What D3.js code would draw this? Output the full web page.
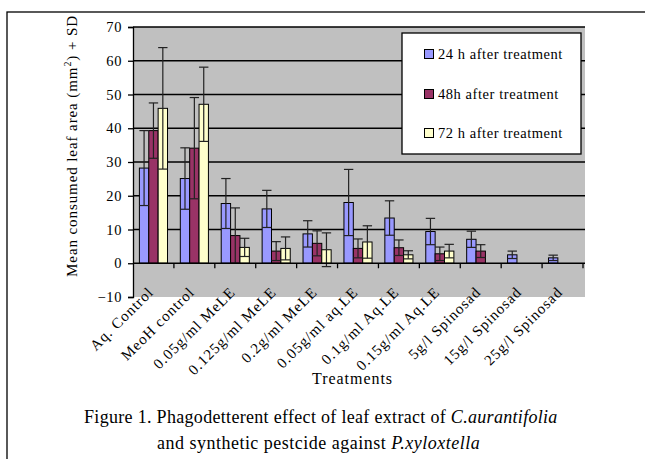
<!DOCTYPE html>
<html>
<head>
<meta charset="utf-8">
<script src="https://cdn.jsdelivr.net/npm/d3@7"></script>
<style>
  body { margin: 0; background: #fff; }
  svg { display: block; font-family: "Liberation Serif", "Times New Roman", serif; }
</style>
</head>
<body>
<div id="chart"></div>
<script>
var categories = ["Aq. Control", "MeoH control", "0.05g/ml MeLE", "0.125g/ml MeLE", "0.2g/ml MeLE",
    "0.05g/ml aq.LE", "0.1g/ml Aq.LE", "0.15g/ml Aq.LE", "5g/l Spinosad", "15g/l Spinosad", "25g/l Spinosad"];
var seriesNames = ["24 h after treatment", "48h after treatment", "72 h after treatment"];
var mean24 = [28.2, 25.1, 17.7, 16.1, 8.7, 18.0, 13.4, 9.4, 7.1, 2.5, 1.6];
var sd24   = [11.1, 9.1, 7.4, 5.5, 3.9, 9.8, 5.1, 3.9, 2.4, 1.1, 0.8];
var mean48 = [39.3, 34.1, 8.2, 3.6, 5.9, 4.4, 4.6, 2.8, 3.6, 0, 0];
var sd48   = [8.2, 15.0, 8.2, 2.8, 3.7, 2.8, 2.3, 2.0, 1.9, 0, 0];
var mean72 = [45.9, 47.1, 4.7, 4.4, 4.0, 6.3, 2.5, 3.6, 0, 0, 0];
var sd72   = [18.0, 11.0, 2.7, 3.4, 5.0, 4.8, 1.2, 2.0, 0, 0, 0];
var yTicks = [-10, 0, 10, 20, 30, 40, 50, 60, 70];

var colours = ["#9999ff", "#993366", "#ffffcc"];
var means = [mean24, mean48, mean72];
var sds = [sd24, sd48, sd72];

// stretch text to a measured width
function fitWidth(sel, w) {
    var len = sel.node().getComputedTextLength();
    var n = sel.text().length;
    sel.attr("letter-spacing", ((w - len) / n).toFixed(2));
}

var svg = d3.select("#chart").append("svg")
    .attr("width", 645).attr("height", 459);

// outer figure frame (runs off the page)
svg.append("rect")
    .attr("x", 7).attr("y", 12).attr("width", 700).attr("height", 500)
    .attr("fill", "none").attr("stroke", "#000").attr("stroke-width", 1.3);

var plot = {left: 133, right: 583, top: 27, bottom: 297};

var x0 = d3.scaleBand().domain(categories).range([plot.left, plot.right]).padding(0);
var x1 = d3.scaleBand().domain([0, 1, 2]).range([6.4, x0.bandwidth() - 6.4]).padding(0);
var y = d3.scaleLinear().domain([-10, 70]).range([plot.bottom, plot.top]);

svg.append("rect")
    .attr("x", plot.left).attr("y", plot.top)
    .attr("width", plot.right - plot.left + 2).attr("height", plot.bottom - plot.top)
    .attr("fill", "#c0c0c0");

// gridlines
svg.append("g").selectAll("line").data(yTicks.filter(function(d) { return d > 0; })).enter()
    .append("line")
    .attr("x1", plot.left).attr("x2", plot.right + 2)
    .attr("y1", function(d) { return y(d); }).attr("y2", function(d) { return y(d); })
    .attr("stroke", "#000").attr("stroke-width", 1.3);

// y axis
var yAxis = d3.axisLeft(y).tickValues(yTicks).tickSize(5).tickPadding(6);
var yg = svg.append("g").attr("transform", "translate(" + plot.left + ",0)").call(yAxis);
yg.select(".domain").attr("stroke", "#000").attr("stroke-width", 1.3);
yg.selectAll(".tick line").attr("stroke", "#000").attr("stroke-width", 1.3);
yg.selectAll(".tick text")
    .attr("font-family", "Liberation Serif").attr("font-size", "14.5px").attr("fill", "#000")
    .attr("letter-spacing", "0.6");

// bars
var groups = svg.append("g").selectAll("g").data(categories).enter()
    .append("g")
    .attr("transform", function(d) { return "translate(" + x0(d) + ",0)"; });

groups.each(function(cat, i) {
    var g = d3.select(this);
    for (var s = 0; s < 3; s++) {
        var v = means[s][i];
        g.append("rect")
            .attr("x", x1(s)).attr("width", x1.bandwidth())
            .attr("y", y(Math.max(0, v))).attr("height", Math.abs(y(v) - y(0)))
            .attr("fill", colours[s]).attr("stroke", "#000").attr("stroke-width", 1);
    }
});

// x axis at zero
svg.append("line")
    .attr("x1", plot.left).attr("x2", plot.right + 2)
    .attr("y1", y(0)).attr("y2", y(0))
    .attr("stroke", "#000").attr("stroke-width", 1.3);
svg.append("g").selectAll("line").data(d3.range(1, categories.length + 1)).enter()
    .append("line")
    .attr("x1", function(d) { return plot.left + d * x0.step(); })
    .attr("x2", function(d) { return plot.left + d * x0.step(); })
    .attr("y1", y(0)).attr("y2", y(0) + 5)
    .attr("stroke", "#000").attr("stroke-width", 1.3);

// error bars
groups.each(function(cat, i) {
    var g = d3.select(this);
    for (var s = 0; s < 3; s++) {
        var v = means[s][i], sd = sds[s][i];
        if (!sd) continue;
        var cx = x1(s) + x1.bandwidth() / 2, hw = x1.bandwidth() / 2;
        g.append("line").attr("x1", cx).attr("x2", cx)
            .attr("y1", y(v - sd)).attr("y2", y(v + sd))
            .attr("stroke", "#222").attr("stroke-width", 1.2);
        [v - sd, v + sd].forEach(function(e) {
            g.append("line").attr("x1", cx - hw).attr("x2", cx + hw)
                .attr("y1", y(e)).attr("y2", y(e))
                .attr("stroke", "#222").attr("stroke-width", 1.2);
        });
    }
});

// category labels
svg.append("g").selectAll("text").data(categories).enter()
    .append("text")
    .attr("transform", function(d) {
        return "translate(" + (x0(d) + x0.bandwidth() / 2 + 1) + ",293) rotate(-45)";
    })
    .attr("text-anchor", "end")
    .style("font-size", "15px")
    .attr("letter-spacing", "1")
    .text(function(d) { return d; });

// axis titles
var xt = svg.append("text").attr("x", 312).attr("y", 384)
    .style("font-size", "16px").text("Treatments");
fitWidth(xt, 81);

var yt = svg.append("text")
    .attr("transform", "translate(77,146) rotate(-90)")
    .attr("text-anchor", "middle")
    .style("font-size", "15px");
yt.append("tspan").text("Mean consumed leaf area (mm");
yt.append("tspan").attr("dy", -6).style("font-size", "10px").text("2");
yt.append("tspan").attr("dy", 6).text(") + SD");
fitWidth(yt, 262);

// legend
var legend = svg.append("g");
legend.append("rect")
    .attr("x", 402).attr("y", 33).attr("width", 179).attr("height", 121)
    .attr("fill", "#fff").attr("stroke", "#000").attr("stroke-width", 1.3);
var legendY = [54, 94, 133];
var legendW = [125, 121, 125];
seriesNames.forEach(function(name, s) {
    legend.append("rect")
        .attr("x", 424.5).attr("y", legendY[s] - 4.5).attr("width", 9).attr("height", 9)
        .attr("fill", colours[s]).attr("stroke", "#000").attr("stroke-width", 1);
    var t = legend.append("text")
        .attr("x", 438).attr("y", legendY[s] + 5)
        .style("font-size", "14.5px").text(name);
    fitWidth(t, legendW[s]);
});

// caption
var cap1 = svg.append("text").attr("x", 84).attr("y", 423).style("font-size", "18px");
cap1.append("tspan").text("Figure 1. Phagodetterent effect of leaf extract of ");
cap1.append("tspan").style("font-style", "italic").text("C.aurantifolia");
fitWidth(cap1, 474);

var cap2 = svg.append("text").attr("x", 157).attr("y", 449).style("font-size", "18px");
cap2.append("tspan").text("and synthetic pestcide against ");
cap2.append("tspan").style("font-style", "italic").text("P.xyloxtella");
fitWidth(cap2, 323);
</script>
</body>
</html>
